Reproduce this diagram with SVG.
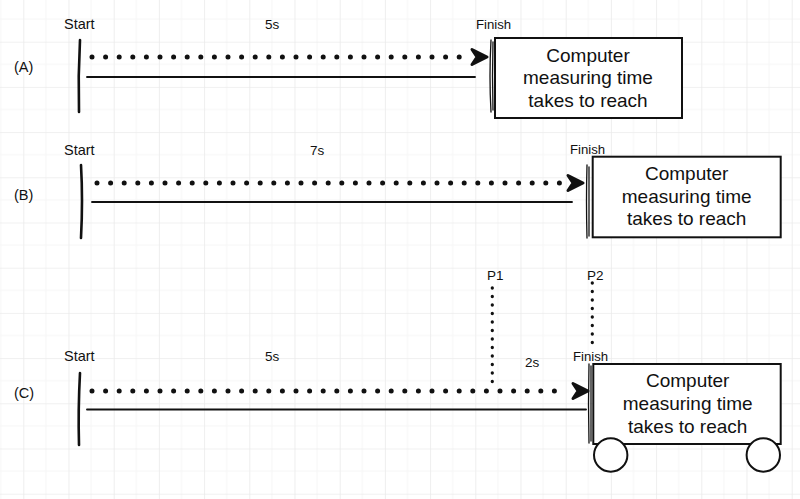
<svg xmlns="http://www.w3.org/2000/svg" width="800" height="499" viewBox="0 0 800 499">
  <defs>
    <pattern id="grid" x="23.3" y="41.7" width="45.2" height="45.2" patternUnits="userSpaceOnUse">
      <path d="M22.6,0 V45.2 M0,22.6 H45.2" fill="none" stroke="#f6f6f6" stroke-width="1"/>
      <path d="M0,0 V45.2 M0,0 H45.2" fill="none" stroke="#ebebeb" stroke-width="1.6"/>
    </pattern>
    <path id="arrowhead" d="M0,0 L-15,-7.5 L-10,0 L-15,7.5 Z"/>
  </defs>
  <style>
    .lbl { font-family: "Liberation Sans", Arial, sans-serif; fill: #111; }
    .sm { font-size: 13.5px; }
    .st { font-size: 14.5px; }
    .fin { font-size: 13.2px; }
    .boxtxt { font-family: "Liberation Sans", Arial, sans-serif; font-size: 19px; fill: #111; text-anchor: middle; }
    .box { fill: #fff; stroke: #111; stroke-width: 2; }
    .bar { fill: none; stroke: #111; stroke-width: 2.6; stroke-linecap: round; }
    .fbar { fill: none; stroke: #111; stroke-width: 1.3; stroke-linecap: round; }
    .dots { fill: none; stroke: #111; stroke-width: 5; stroke-linecap: round; stroke-dasharray: 0 13.6; }
    .vdots { fill: none; stroke: #111; stroke-width: 3.3; stroke-linecap: round; stroke-dasharray: 0 8.5; }
    .solid { fill: none; stroke: #111; stroke-width: 1.9; stroke-linecap: round; }
    .head { fill: #111; stroke: #111; stroke-width: 3; stroke-linejoin: round; }
    .wheel { fill: #fff; stroke: #111; stroke-width: 2; }
  </style>
  <rect width="800" height="499" fill="#ffffff"/>
  <rect width="800" height="499" fill="url(#grid)"/>

  <!-- Row A -->
  <g id="rowA-labels">
    <text class="lbl st" x="14" y="71.5">(A)</text>
    <text class="lbl st" x="64" y="29">Start</text>
    <text class="lbl sm" x="265" y="28.5">5s</text>
    <text class="lbl fin" x="476" y="28.5">Finish</text>
  </g>
  <g id="rowA-start">
    <path class="bar" d="M80,40 Q78,76 79,112"/>
  </g>
  <g id="rowA-finish">
    <path class="fbar" d="M491,40 Q489,76 491,112"/>
    <path class="fbar" d="M493,42 Q492,76 493,110"/>
  </g>
  <g id="rowA-computer">
    <rect class="box" x="495" y="38" width="187" height="80"/>
    <text class="boxtxt" x="588" y="61.5">Computer</text>
    <text class="boxtxt" x="588" y="84">measuring time</text>
    <text class="boxtxt" x="588" y="106.5">takes to reach</text>
  </g>

  <!-- Row B -->
  <g id="rowB-labels">
    <text class="lbl st" x="14" y="200">(B)</text>
    <text class="lbl st" x="64" y="154.5">Start</text>
    <text class="lbl sm" x="310" y="154.5">7s</text>
    <text class="lbl fin" x="570" y="154">Finish</text>
  </g>
  <g id="rowB-start">
    <path class="bar" d="M81,165 Q83,200 81,238"/>
  </g>
  <g id="rowB-finish">
    <path class="fbar" d="M587,165 Q586,200 587,238"/>
    <path class="fbar" d="M589,167 Q589,200 589,236"/>
  </g>
  <g id="rowB-computer">
    <rect class="box" x="592.7" y="156.7" width="188" height="80.6"/>
    <text class="boxtxt" x="686.7" y="179.5">Computer</text>
    <text class="boxtxt" x="686.7" y="202.5">measuring time</text>
    <text class="boxtxt" x="686.7" y="225">takes to reach</text>
  </g>

  <!-- Row C -->
  <g id="rowC-labels">
    <text class="lbl st" x="14" y="398">(C)</text>
    <text class="lbl st" x="64" y="361">Start</text>
    <text class="lbl sm" x="265" y="361">5s</text>
    <text class="lbl sm" x="487" y="280">P1</text>
    <text class="lbl sm" x="587" y="280">P2</text>
    <text class="lbl sm" x="525" y="366.5">2s</text>
    <text class="lbl fin" x="573" y="360.5">Finish</text>
  </g>
  <g id="rowC-start">
    <path class="bar" d="M80,373 Q78,410 79,445"/>
  </g>
  <g id="rowC-finish">
    <path class="fbar" d="M589,364 Q588,404 589,443"/>
    <path class="fbar" d="M591,366 Q591,404 591,441"/>
  </g>
  <g id="rowC-computer">
    <rect class="box" x="593.3" y="364" width="187.4" height="80"/>
    <text class="boxtxt" x="687.7" y="386.5">Computer</text>
    <text class="boxtxt" x="687.7" y="409.5">measuring time</text>
    <text class="boxtxt" x="687.7" y="432.5">takes to reach</text>
    <circle class="wheel" cx="610.7" cy="455" r="16.7"/>
    <circle class="wheel" cx="763.3" cy="455" r="16.7"/>
  </g>

  <!-- Connectors -->
  <g id="connectors">
    <path class="dots" d="M92,57 H466"/>
    <use href="#arrowhead" class="head" x="487" y="57"/>
    <path class="solid" d="M87,77 H475"/>

    <path class="dots" d="M97,183 H562"/>
    <use href="#arrowhead" class="head" x="583" y="183"/>
    <path class="solid" d="M92,202 H572"/>

    <path class="dots" d="M92,391 H567"/>
    <use href="#arrowhead" class="head" x="588" y="391"/>
    <path class="solid" d="M87,409.5 H586"/>

    <path class="vdots" d="M492.3,288 V390"/>
    <path class="vdots" d="M592.3,283 V351"/>
  </g>
</svg>
